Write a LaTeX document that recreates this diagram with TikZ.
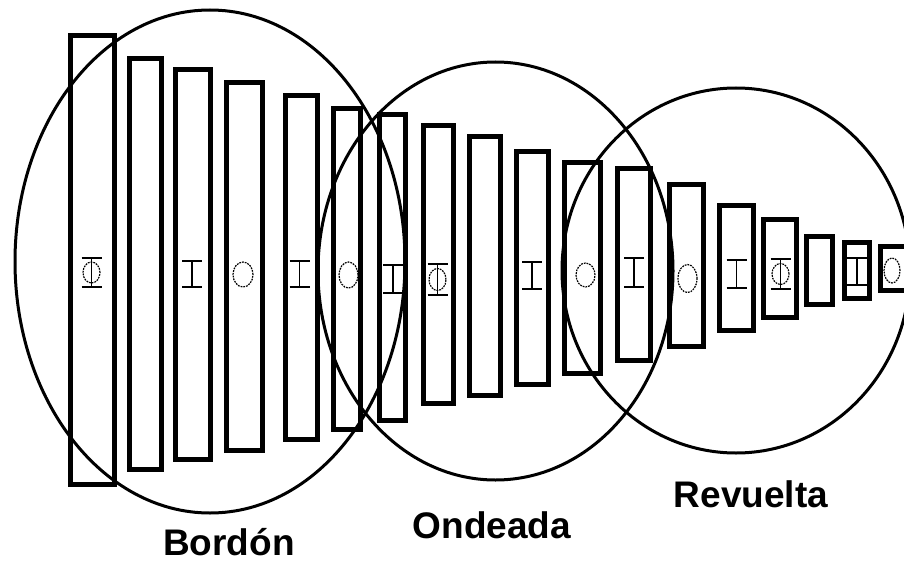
\documentclass[tikz,border=0pt]{standalone}
\usepackage{fontspec}
\setmainfont{Liberation Sans}
\tikzset{
  bar/.style={draw=black, line width=5pt},
  ring/.style={draw=black, line width=3pt},
  glyph/.style={draw=black, line width=1.4pt},
  dotring/.style={draw=black, line width=1.2pt, dash pattern=on 1.8pt off 1pt},
  lbl/.style={font=\fontsize{37}{40}\selectfont\bfseries, anchor=base, inner sep=0pt}
}
\newcommand{\glyphI}[3]{\draw[glyph] (#1-10,#2) -- (#1+10,#2) (#1,#2) -- (#1,#3) (#1-10,#3) -- (#1+10,#3);}
\newcommand{\glyphO}[4]{\draw[dotring] (#1,#2) ellipse [x radius=#3pt, y radius=#4pt];}
\newcommand{\glyphPhi}[5]{\glyphI{#1}{#2}{#3}\glyphO{#1}{#4}{8.5}{#5}}
\begin{document}
\begin{tikzpicture}[x=1pt,y=-1pt]
\useasboundingbox (0,0) rectangle (904,564);
% bars (outer edges)
\foreach \l/\t/\r/\b in {
  68/33/117/487, 127/56/164/472, 173/67/213/462, 224/80/265/453,
  283/93/320/442, 331/106/363/432, 377/112/408/423, 421/123/456/406,
  467/134/503/398, 514/149/551/387, 562/160/603/376, 615/166/653/363,
  667/182/706/349, 717/203/756/333, 761/217/799/320, 804/234/835/307,
  842/240/872/301, 878/244/912/293}
  \draw[bar] (\l+2.5,\t+2.5) rectangle (\r-2.5,\b-2.5);
% rings
\draw[ring] (210,261.5) ellipse [x radius=195pt, y radius=251.5pt];
\draw[ring] (495.5,271) ellipse [x radius=177.5pt, y radius=209pt];
\draw[ring] (736,270.5) ellipse [x radius=174pt, y radius=182.5pt];
% glyphs
\glyphPhi{91.5}{258}{287}{272.5}{10.5}
\glyphI{192}{261}{287}
\glyphO{243}{274.5}{10}{12.5}
\glyphI{299.5}{261}{287}
\glyphO{348.5}{275}{9.5}{13}
\glyphI{393}{265}{293}
\glyphPhi{437.5}{264}{295}{279.5}{11}
\glyphI{532}{262}{289}
\glyphO{585.5}{275}{9.5}{12}
\glyphI{634}{258}{287}
\glyphO{687.5}{278.5}{9.5}{14}
\glyphI{736.5}{260}{288}
\glyphPhi{780.5}{259}{289}{274}{10.5}
\glyphI{857}{258}{285}
\glyphO{892}{270.5}{8}{12.5}
% labels
\node[lbl] (bordon) at (229,555) {Bordón};
\node[lbl] (ondeada) at (492,538) {Ondeada};
\node[lbl] (revuelta) at (751,507) {Revuelta};
\end{tikzpicture}
\end{document}
